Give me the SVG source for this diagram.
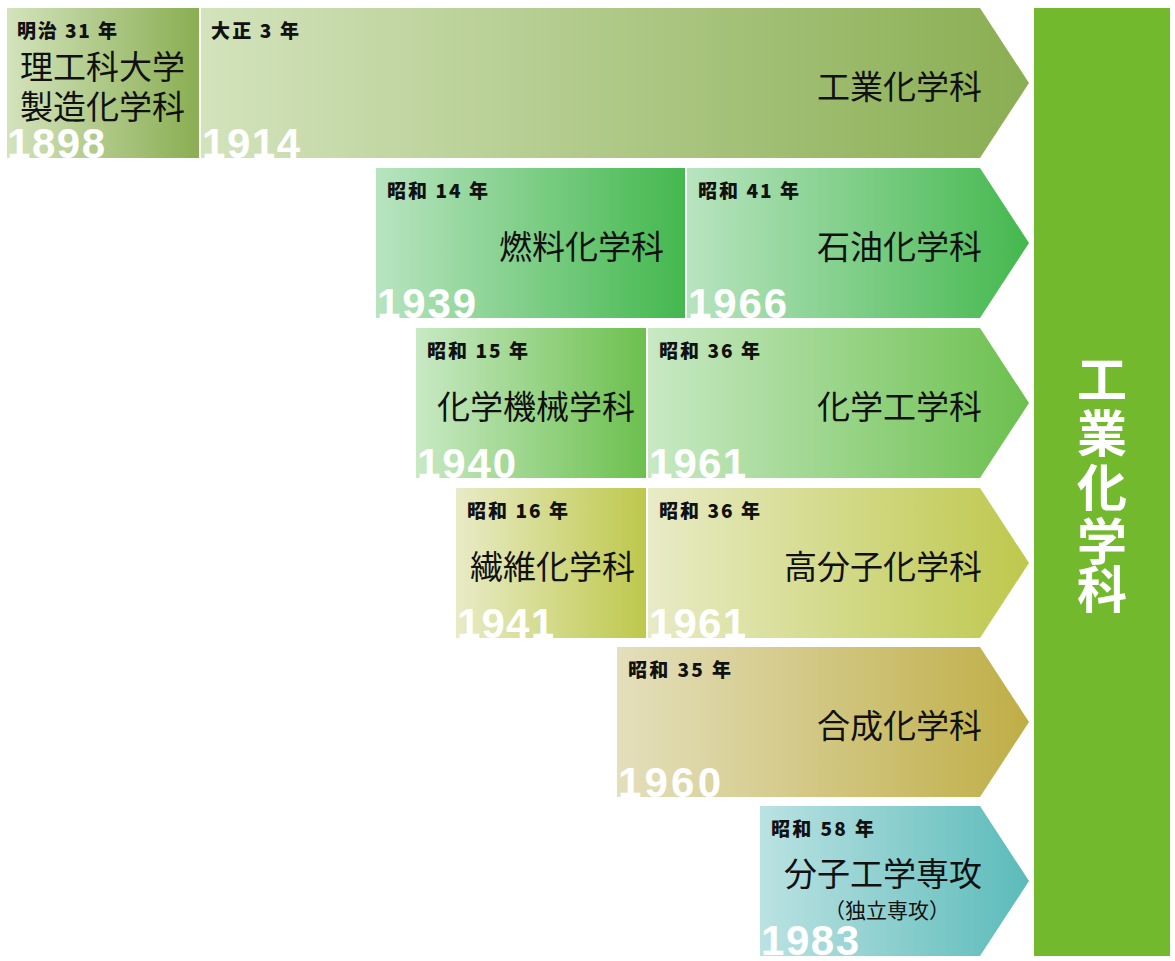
<svg xmlns="http://www.w3.org/2000/svg" width="1175" height="961" viewBox="0 0 1175 961">
<defs>
<linearGradient id="g1" x1="0" x2="1"><stop offset="0" stop-color="#d3e3bc"/><stop offset="1" stop-color="#8aae52"/></linearGradient>
<linearGradient id="g2" x1="0" x2="1"><stop offset="0" stop-color="#b8e4c0"/><stop offset="1" stop-color="#44b84e"/></linearGradient>
<linearGradient id="g3" x1="0" x2="1"><stop offset="0" stop-color="#c8e9c4"/><stop offset="1" stop-color="#6cc04e"/></linearGradient>
<linearGradient id="g4" x1="0" x2="1"><stop offset="0" stop-color="#e8ebc6"/><stop offset="1" stop-color="#bec84c"/></linearGradient>
<linearGradient id="g5" x1="0" x2="1"><stop offset="0" stop-color="#e4dfbc"/><stop offset="1" stop-color="#bfae46"/></linearGradient>
<linearGradient id="g6" x1="0" x2="1"><stop offset="0" stop-color="#bbe2e2"/><stop offset="1" stop-color="#5bbbba"/></linearGradient>
</defs>
<style>
.era{font-family:"Noto Sans CJK JP",sans-serif;font-weight:900;font-size:19px;fill:#111}
.nm{font-family:"Noto Sans CJK JP",sans-serif;font-size:33px;fill:#111}
.yr{font-family:"Liberation Sans",sans-serif;font-weight:bold;font-size:42px;fill:#fff}
.v{font-family:"Noto Sans CJK JP",sans-serif;font-weight:bold;font-size:50px;fill:#fff}
</style>
<rect width="1175" height="961" fill="#fff"/>
<g id="n1898"><rect x="7" y="8" width="192" height="150" fill="url(#g1)"/><text class="era" x="17" y="38" textLength="100">明治 31 年</text><text class="nm" x="20" y="79">理工科大学</text><text class="nm" x="20" y="119">製造化学科</text><text class="yr" x="7" y="158" textLength="98">1898</text></g>
<g id="n1914"><polygon points="201,8 980,8 1029,83 980,158 201,158" fill="url(#g1)"/><text class="era" x="211" y="38" textLength="88">大正 3 年</text><text class="nm" x="982" y="99" text-anchor="end">工業化学科</text><text class="yr" x="202" y="158" textLength="98">1914</text></g>
<g id="n1939"><rect x="376" y="168" width="309" height="150" fill="url(#g2)"/><text class="era" x="387" y="198" textLength="101">昭和 14 年</text><text class="nm" x="664" y="259" text-anchor="end">燃料化学科</text><text class="yr" x="377" y="318" textLength="99">1939</text></g>
<g id="n1966"><polygon points="687,168 980,168 1029,243 980,318 687,318" fill="url(#g2)"/><text class="era" x="698" y="198" textLength="101">昭和 41 年</text><text class="nm" x="982" y="259" text-anchor="end">石油化学科</text><text class="yr" x="688" y="318" textLength="99">1966</text></g>
<g id="n1940"><rect x="416" y="328" width="230" height="150" fill="url(#g3)"/><text class="era" x="427" y="358" textLength="101">昭和 15 年</text><text class="nm" x="635" y="419" text-anchor="end">化学機械学科</text><text class="yr" x="417" y="478" textLength="99">1940</text></g>
<g id="n1961a"><polygon points="648,328 980,328 1029,403 980,478 648,478" fill="url(#g3)"/><text class="era" x="659" y="358" textLength="101">昭和 36 年</text><text class="nm" x="982" y="419" text-anchor="end">化学工学科</text><text class="yr" x="649" y="478" textLength="97">1961</text></g>
<g id="n1941"><rect x="456" y="488" width="190" height="150" fill="url(#g4)"/><text class="era" x="467" y="518" textLength="101">昭和 16 年</text><text class="nm" x="635" y="579" text-anchor="end">繊維化学科</text><text class="yr" x="457" y="638" textLength="97">1941</text></g>
<g id="n1961b"><polygon points="648,488 980,488 1029,563 980,638 648,638" fill="url(#g4)"/><text class="era" x="659" y="518" textLength="101">昭和 36 年</text><text class="nm" x="982" y="579" text-anchor="end">高分子化学科</text><text class="yr" x="649" y="638" textLength="97">1961</text></g>
<g id="n1960"><polygon points="617,647 980,647 1029,722 980,797 617,797" fill="url(#g5)"/><text class="era" x="628" y="677" textLength="103">昭和 35 年</text><text class="nm" x="982" y="738" text-anchor="end">合成化学科</text><text class="yr" x="618" y="797" textLength="103">1960</text></g>
<g id="n1983"><polygon points="760,806 980,806 1029,881 980,956 760,956" fill="url(#g6)"/><text class="era" x="771" y="836" textLength="103">昭和 58 年</text><text class="nm" x="982" y="886" text-anchor="end">分子工学専攻</text><text class="nm" x="824" y="918" style="font-size:21px">（独立専攻）</text><text class="yr" x="761" y="955" textLength="98">1983</text></g>
<g id="main"><rect x="1034" y="8" width="136" height="948" fill="#72b92e"/><text class="v" x="1102" y="398" text-anchor="middle">工</text><text class="v" x="1102" y="452" text-anchor="middle">業</text><text class="v" x="1102" y="506" text-anchor="middle">化</text><text class="v" x="1102" y="560" text-anchor="middle">学</text><text class="v" x="1102" y="608" text-anchor="middle">科</text></g>
<g id="connectors"/>
</svg>
